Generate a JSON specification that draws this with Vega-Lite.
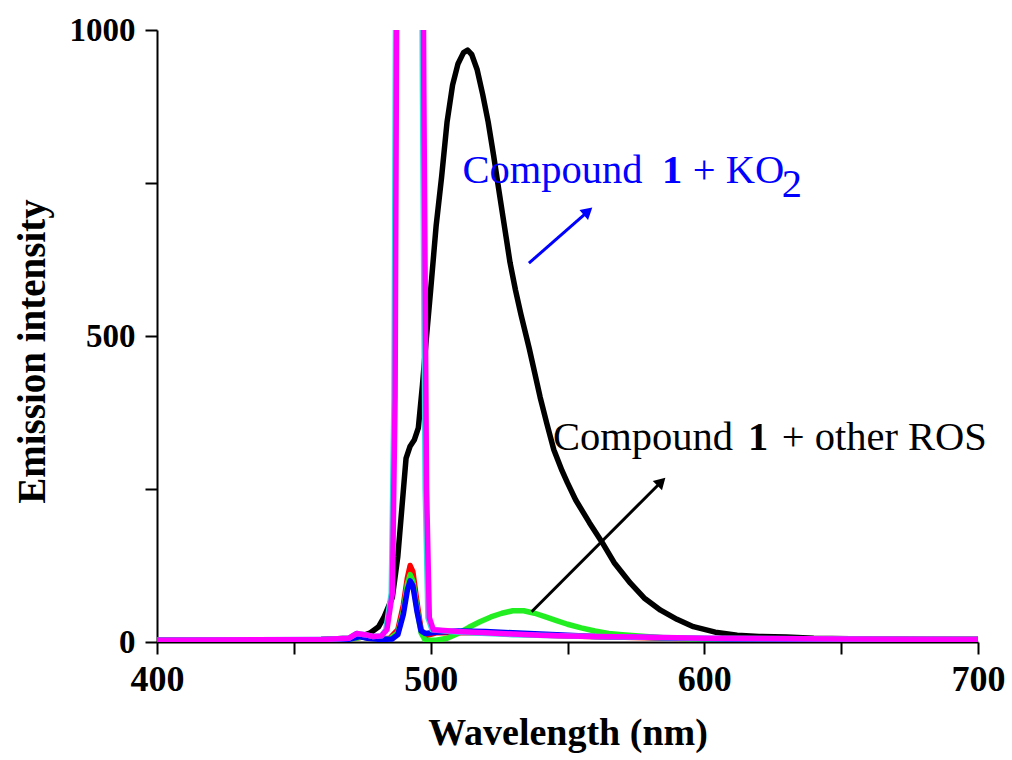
{
  "$schema": "https://vega.github.io/schema/vega-lite/v6.json",
  "width": 821,
  "height": 612,
  "autosize": {"type": "none"},
  "padding": {"left": 157, "top": 30, "right": 34, "bottom": 118},
  "background": "white",
  "config": {
    "view": {"stroke": null},
    "axis": {
      "grid": false,
      "domainColor": "black",
      "domainWidth": 2,
      "tickColor": "black",
      "tickWidth": 2,
      "tickSize": 12,
      "labelColor": "black",
      "titleColor": "black",
      "labelFont": "Liberation Serif",
      "titleFont": "Liberation Serif",
      "labelFontWeight": "bold",
      "titleFontWeight": "bold",
      "labelFlush": false,
      "labelOverlap": false
    }
  },
  "datasets": {
    "spec": [
      {"s":"k","x":400,"y":3},{"s":"k","x":420,"y":3},{"s":"k","x":440,"y":3},{"s":"k","x":460,"y":4},{"s":"k","x":470,"y":6},{"s":"k","x":475,"y":10},{"s":"k","x":478,"y":15},{"s":"k","x":481,"y":25},{"s":"k","x":483,"y":41},{"s":"k","x":486,"y":73},{"s":"k","x":488,"y":140},{"s":"k","x":489.5,"y":220},{"s":"k","x":491,"y":300},{"s":"k","x":492.5,"y":320},{"s":"k","x":494,"y":330},{"s":"k","x":495.5,"y":350},{"s":"k","x":497,"y":420},{"s":"k","x":498.5,"y":500},{"s":"k","x":500,"y":575},{"s":"k","x":502,"y":680},{"s":"k","x":504,"y":760},{"s":"k","x":506,"y":850},{"s":"k","x":508,"y":910},{"s":"k","x":510,"y":945},{"s":"k","x":512,"y":963},{"s":"k","x":513.5,"y":967},{"s":"k","x":515,"y":960},{"s":"k","x":517,"y":935},{"s":"k","x":519,"y":895},{"s":"k","x":521,"y":850},{"s":"k","x":523,"y":795},{"s":"k","x":525,"y":736},{"s":"k","x":527,"y":678},{"s":"k","x":529,"y":620},{"s":"k","x":531,"y":575},{"s":"k","x":533,"y":535},{"s":"k","x":536,"y":480},{"s":"k","x":538,"y":440},{"s":"k","x":540,"y":400},{"s":"k","x":542.5,"y":356},{"s":"k","x":545,"y":314},{"s":"k","x":548,"y":280},{"s":"k","x":550,"y":260},{"s":"k","x":553,"y":232},{"s":"k","x":558,"y":195},{"s":"k","x":562.5,"y":164},{"s":"k","x":567,"y":130},{"s":"k","x":573,"y":96},{"s":"k","x":578,"y":72},{"s":"k","x":584,"y":52},{"s":"k","x":590,"y":37},{"s":"k","x":596,"y":25},{"s":"k","x":604,"y":16},{"s":"k","x":612,"y":11},{"s":"k","x":620,"y":9},{"s":"k","x":630,"y":8},{"s":"k","x":640,"y":6},{"s":"k","x":660,"y":5},{"s":"k","x":680,"y":4},{"s":"k","x":700,"y":4},

      {"s":"r","x":400,"y":3},{"s":"r","x":470,"y":4},{"s":"r","x":475,"y":8},{"s":"r","x":480,"y":5},{"s":"r","x":485,"y":6},{"s":"r","x":488,"y":20},{"s":"r","x":490,"y":60},{"s":"r","x":491.5,"y":105},{"s":"r","x":492.5,"y":125},{"s":"r","x":493.5,"y":115},{"s":"r","x":495,"y":65},{"s":"r","x":496.5,"y":20},{"s":"r","x":498,"y":10},{"s":"r","x":502,"y":15},{"s":"r","x":520,"y":15},{"s":"r","x":550,"y":10},{"s":"r","x":600,"y":5},{"s":"r","x":700,"y":4},

      {"s":"g","x":400,"y":3},{"s":"g","x":470,"y":4},{"s":"g","x":475,"y":8},{"s":"g","x":480,"y":5},{"s":"g","x":485,"y":5},{"s":"g","x":488,"y":15},{"s":"g","x":490,"y":50},{"s":"g","x":491.5,"y":95},{"s":"g","x":492.5,"y":110},{"s":"g","x":493.5,"y":100},{"s":"g","x":495,"y":55},{"s":"g","x":496.5,"y":15},{"s":"g","x":498,"y":3},{"s":"g","x":502,"y":3},{"s":"g","x":506,"y":6},{"s":"g","x":510,"y":14},{"s":"g","x":514,"y":24},{"s":"g","x":518,"y":33},{"s":"g","x":522,"y":41},{"s":"g","x":526,"y":47},{"s":"g","x":530,"y":51},{"s":"g","x":534,"y":51},{"s":"g","x":538,"y":47},{"s":"g","x":542,"y":41},{"s":"g","x":546,"y":35},{"s":"g","x":550,"y":29},{"s":"g","x":555,"y":23},{"s":"g","x":560,"y":18},{"s":"g","x":565,"y":14},{"s":"g","x":570,"y":12},{"s":"g","x":576,"y":10},{"s":"g","x":585,"y":7},{"s":"g","x":595,"y":5},{"s":"g","x":610,"y":4},{"s":"g","x":650,"y":3},{"s":"g","x":700,"y":3},

      {"s":"b","x":400,"y":3},{"s":"b","x":470,"y":4},{"s":"b","x":474,"y":9},{"s":"b","x":477,"y":6},{"s":"b","x":482,"y":4},{"s":"b","x":486,"y":5},{"s":"b","x":488,"y":12},{"s":"b","x":490,"y":45},{"s":"b","x":491.5,"y":85},{"s":"b","x":492.5,"y":100},{"s":"b","x":493.5,"y":92},{"s":"b","x":495,"y":50},{"s":"b","x":496.5,"y":18},{"s":"b","x":498,"y":14},{"s":"b","x":502,"y":16},{"s":"b","x":510,"y":18},{"s":"b","x":520,"y":17},{"s":"b","x":530,"y":15},{"s":"b","x":540,"y":13},{"s":"b","x":550,"y":11},{"s":"b","x":560,"y":9},{"s":"b","x":575,"y":8},{"s":"b","x":590,"y":6},{"s":"b","x":610,"y":5},{"s":"b","x":650,"y":4},{"s":"b","x":700,"y":4},

      {"s":"c","x":400,"y":3},{"s":"c","x":460,"y":4},{"s":"c","x":470,"y":6},{"s":"c","x":473,"y":14},{"s":"c","x":476,"y":12},{"s":"c","x":479,"y":9},{"s":"c","x":482,"y":10},{"s":"c","x":483.6,"y":20},{"s":"c","x":485.6,"y":80},{"s":"c","x":486.6,"y":400},{"s":"c","x":487.6,"y":1500},{"s":"c","x":489.6,"y":4000},{"s":"c","x":494,"y":4000},{"s":"c","x":496,"y":1800},{"s":"c","x":497,"y":900},{"s":"c","x":498,"y":250},{"s":"c","x":499,"y":40},{"s":"c","x":500.5,"y":20},{"s":"c","x":510,"y":16},{"s":"c","x":530,"y":12},{"s":"c","x":560,"y":9},{"s":"c","x":600,"y":6},{"s":"c","x":700,"y":4},

      {"s":"m","x":400,"y":3},{"s":"m","x":460,"y":4},{"s":"m","x":470,"y":6},{"s":"m","x":473,"y":14},{"s":"m","x":476,"y":12},{"s":"m","x":479,"y":9},{"s":"m","x":482,"y":10},{"s":"m","x":484,"y":20},{"s":"m","x":486,"y":80},{"s":"m","x":487,"y":400},{"s":"m","x":488,"y":1500},{"s":"m","x":490,"y":4000},{"s":"m","x":494.5,"y":4000},{"s":"m","x":496.5,"y":1800},{"s":"m","x":497.5,"y":900},{"s":"m","x":498.5,"y":250},{"s":"m","x":499.5,"y":40},{"s":"m","x":501,"y":20},{"s":"m","x":510,"y":17},{"s":"m","x":520,"y":15},{"s":"m","x":530,"y":13},{"s":"m","x":540,"y":11},{"s":"m","x":550,"y":10},{"s":"m","x":560,"y":9},{"s":"m","x":575,"y":8},{"s":"m","x":600,"y":6},{"s":"m","x":650,"y":5},{"s":"m","x":700,"y":4}
    ],
    "labels": [
      {"t":"Compound","x":511.6,"y":750,"c":"b","w":"normal"},
      {"t":"1","x":584.5,"y":750,"c":"b","w":"bold"},
      {"t":"+ KO","x":595.8,"y":750,"c":"b","w":"normal"},
      {"t":"2","x":628.3,"y":727,"c":"b","w":"normal"},
      {"t":"Compound","x":544.7,"y":314,"c":"k","w":"normal"},
      {"t":"1","x":616.0,"y":314,"c":"k","w":"bold"},
      {"t":"+ other ROS","x":628.3,"y":314,"c":"k","w":"normal"}
    ],
    "arrows": [
      {"c":"b","x":535.9,"y":619,"x2":557.5,"y2":703.8,"a":49},
      {"c":"k","x":536.9,"y":49.5,"x2":584.3,"y2":261.9,"a":45}
    ]
  },
  "layer": [
    {
      "data": {"name": "spec"},
      "transform": [{"filter": "datum.s == 'k'"}],
      "mark": {"type": "line", "color": "black", "strokeWidth": 5.5, "clip": true, "strokeJoin": "round"},
      "encoding": {
        "x": {"field": "x", "type": "quantitative", "scale": {"domain": [400, 700], "nice": false},
          "axis": {"title": "Wavelength (nm)", "values": [400,450,500,550,600,650,700], "labelExpr": "datum.value % 100 == 0 ? datum.label : ''", "labelFontSize": 36, "labelPadding": 8, "titleFontSize": 38, "titleY": 102, "titleBaseline": "alphabetic"}},
        "y": {"field": "y", "type": "quantitative", "scale": {"domain": [0, 1000], "nice": false},
          "axis": {"title": "Emission intensity", "values": [0,250,500,750,1000], "format": "d", "labelExpr": "datum.value % 500 == 0 ? datum.label : ''", "labelFontSize": 33, "labelPadding": 10, "titleFontSize": 39, "titleX": -113, "titleY": 321, "titleBaseline": "alphabetic"}}
      }
    },
    {
      "data": {"name": "spec"},
      "transform": [{"filter": "datum.s == 'r'"}],
      "mark": {"type": "line", "color": "#ff0000", "strokeWidth": 5.5, "clip": true, "strokeJoin": "round"},
      "encoding": {"x": {"field": "x", "type": "quantitative"}, "y": {"field": "y", "type": "quantitative"}}
    },
    {
      "data": {"name": "spec"},
      "transform": [{"filter": "datum.s == 'g'"}],
      "mark": {"type": "line", "color": "#22ee22", "strokeWidth": 5.5, "clip": true, "strokeJoin": "round"},
      "encoding": {"x": {"field": "x", "type": "quantitative"}, "y": {"field": "y", "type": "quantitative"}}
    },
    {
      "data": {"name": "spec"},
      "transform": [{"filter": "datum.s == 'b'"}],
      "mark": {"type": "line", "color": "#0000ff", "strokeWidth": 5.5, "clip": true, "strokeJoin": "round"},
      "encoding": {"x": {"field": "x", "type": "quantitative"}, "y": {"field": "y", "type": "quantitative"}}
    },
    {
      "data": {"name": "spec"},
      "transform": [{"filter": "datum.s == 'c'"}],
      "mark": {"type": "line", "color": "#33dddd", "strokeWidth": 5.5, "clip": true, "strokeJoin": "round"},
      "encoding": {"x": {"field": "x", "type": "quantitative"}, "y": {"field": "y", "type": "quantitative"}}
    },
    {
      "data": {"name": "spec"},
      "transform": [{"filter": "datum.s == 'm'"}],
      "mark": {"type": "line", "color": "#ff00ff", "strokeWidth": 5.5, "clip": true, "strokeJoin": "round"},
      "encoding": {"x": {"field": "x", "type": "quantitative"}, "y": {"field": "y", "type": "quantitative"}}
    },
    {
      "data": {"name": "arrows"},
      "mark": {"type": "rule", "strokeWidth": 3},
      "encoding": {
        "x": {"field": "x", "type": "quantitative"},
        "y": {"field": "y", "type": "quantitative"},
        "x2": {"field": "x2"},
        "y2": {"field": "y2"},
        "color": {"field": "c", "type": "nominal", "scale": {"domain": ["b","k"], "range": ["#0000ff","#000000"]}, "legend": null}
      }
    },
    {
      "data": {"name": "arrows"},
      "mark": {"type": "point", "shape": "triangle-up", "filled": true, "size": 170, "opacity": 1},
      "encoding": {
        "x": {"field": "x2", "type": "quantitative"},
        "y": {"field": "y2", "type": "quantitative"},
        "angle": {"field": "a", "type": "quantitative", "scale": null},
        "color": {"field": "c", "type": "nominal", "scale": {"domain": ["b","k"], "range": ["#0000ff","#000000"]}, "legend": null}
      }
    },
    {
      "data": {"name": "labels"},
      "transform": [{"filter": "datum.w == 'normal'"}],
      "mark": {"type": "text", "align": "left", "baseline": "alphabetic", "font": "Liberation Serif", "fontSize": 40.5},
      "encoding": {
        "x": {"field": "x", "type": "quantitative"},
        "y": {"field": "y", "type": "quantitative"},
        "text": {"field": "t"},
        "color": {"field": "c", "type": "nominal", "scale": {"domain": ["b","k"], "range": ["#0000ff","#000000"]}, "legend": null}
      }
    },
    {
      "data": {"name": "labels"},
      "transform": [{"filter": "datum.w == 'bold'"}],
      "mark": {"type": "text", "align": "left", "baseline": "alphabetic", "font": "Liberation Serif", "fontSize": 40.5, "fontWeight": "bold"},
      "encoding": {
        "x": {"field": "x", "type": "quantitative"},
        "y": {"field": "y", "type": "quantitative"},
        "text": {"field": "t"},
        "color": {"field": "c", "type": "nominal", "scale": {"domain": ["b","k"], "range": ["#0000ff","#000000"]}, "legend": null}
      }
    }
  ]
}
